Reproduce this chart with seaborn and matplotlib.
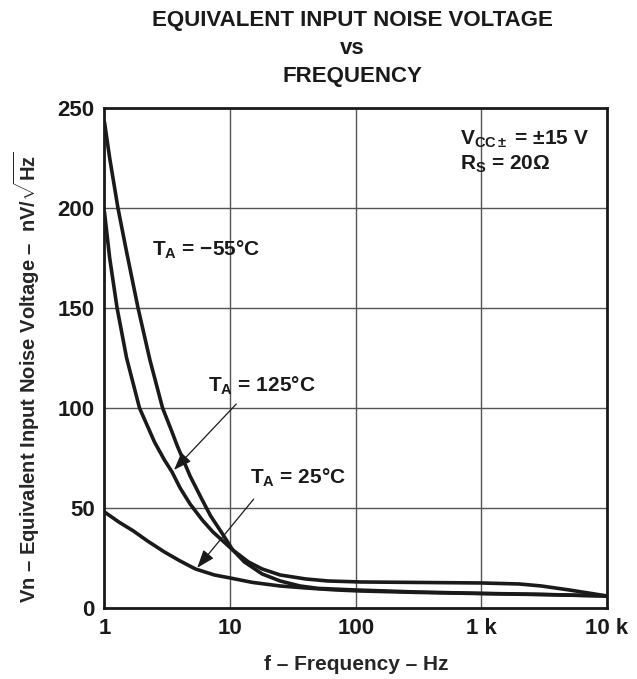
import numpy as np
import pandas as pd
import matplotlib.pyplot as plt
import seaborn as sns

# values
freq_m55 = [1, 1.1, 1.28, 1.5, 1.85, 2.3, 2.9, 3.4, 3.8, 4.8, 6.0, 7.0, 8.6, 10.5, 13, 18, 25, 36, 50, 100, 300, 1000, 3000, 10000]
vn_m55 = [243, 225, 200, 178, 150, 124, 100, 89, 81, 66, 54, 46, 37.5, 29, 23, 17, 13.5, 11, 9.8, 9, 8, 7.3, 6.8, 6]

freq_125 = [1, 1.1, 1.26, 1.5, 1.9, 2.5, 3.0, 3.45, 4.0, 4.8, 6, 7.3, 10.5, 14, 18, 25, 40, 60, 110, 1000, 2000, 3000, 5000, 10000]
vn_125 = [198, 175, 150, 125, 100, 83, 74, 68, 60, 52, 44, 38, 29, 23, 19.5, 16.5, 14.5, 13.5, 13, 12.5, 12, 11, 9, 6]

freq_25 = [1, 1.3, 1.7, 2.2, 3, 4, 5.3, 7.5, 10, 15, 25, 40, 70, 108, 300, 1000, 3000, 10000]
vn_25 = [48, 43, 38.5, 33.5, 28, 23.5, 19.5, 16.5, 15, 12.8, 11, 10, 9, 8.5, 7.8, 7.2, 6.7, 6]

x_ticks = [1, 10, 100, 1000, 10000]
x_tick_labels = ['1', '10', '100', '1 k', '10 k']
y_ticks = [0, 50, 100, 150, 200, 250]

df = pd.concat([
    pd.DataFrame({'f': freq_m55, 'vn': vn_m55, 'ta': '-55'}),
    pd.DataFrame({'f': freq_125, 'vn': vn_125, 'ta': '125'}),
    pd.DataFrame({'f': freq_25, 'vn': vn_25, 'ta': '25'}),
])

sns.set_style('white')
plt.rcParams['font.family'] = ['Liberation Sans', 'DejaVu Sans']
plt.rcParams['font.weight'] = 'bold'
plt.rcParams['mathtext.fontset'] = 'custom'
plt.rcParams['mathtext.rm'] = 'Liberation Sans:bold'
plt.rcParams['mathtext.it'] = 'Liberation Sans:bold'
plt.rcParams['mathtext.bf'] = 'Liberation Sans:bold'
plt.rcParams['mathtext.default'] = 'bf'

ink = '#1a1a1a'
fig = plt.figure(figsize=(6.37, 6.79), dpi=100)
ax = fig.add_axes([0.164, 0.1046, 0.789, 0.7364])

sns.lineplot(data=df, x='f', y='vn', units='ta', estimator=None, sort=False,
             color=ink, linewidth=2.6, ax=ax)

ax.set_xscale('log')
ax.set_xlim(1, 10000)
ax.set_ylim(0, 250)
ax.set_xticks(x_ticks)
ax.set_xticklabels(x_tick_labels)
ax.set_yticks(y_ticks)
ax.minorticks_off()
ax.tick_params(axis='both', length=0, labelsize=16, pad=7, colors=ink)
for lbl in ax.get_xticklabels() + ax.get_yticklabels():
    lbl.set_fontweight('bold')
ax.grid(True, color='#555555', linewidth=1.0)
for s in ax.spines.values():
    s.set_linewidth(2)
    s.set_color(ink)

ax.set_xlabel('f – Frequency – Hz', fontsize=15, fontweight='bold', labelpad=12)
ax.set_ylabel('Vn – Equivalent Input Noise Voltage –  nV/$\\sqrt{\\mathrm{Hz}}$',
              fontsize=14.5, fontweight='bold')
ax.yaxis.set_label_coords(-0.125, 0.462)

fig.text(0.553, 0.9705, 'EQUIVALENT INPUT NOISE VOLTAGE', ha='center', va='center',
         fontsize=16, fontweight='bold', color=ink)
fig.text(0.553, 0.929, 'vs', ha='center', va='center', fontsize=16, fontweight='bold', color=ink)
fig.text(0.553, 0.887, 'FREQUENCY', ha='center', va='center', fontsize=16, fontweight='bold', color=ink)

ax.text(0.707, 0.938, 'V$_{CC\\pm}$ = ±15 V', transform=ax.transAxes, fontsize=15, fontweight='bold',
        ha='left', va='center', color=ink)
ax.text(0.707, 0.888, 'R$_S$ = 20Ω', transform=ax.transAxes, fontsize=15, fontweight='bold',
        ha='left', va='center', color=ink)

ax.text(2.4, 179, 'T$_A$ = −55°C', fontsize=15, fontweight='bold', ha='left', va='center', color=ink)
ax.text(6.7, 111, 'T$_A$ = 125°C', fontsize=15, fontweight='bold', ha='left', va='center', color=ink)
ax.text(14.5, 65, 'T$_A$ = 25°C', fontsize=15, fontweight='bold', ha='left', va='center', color=ink)

arrow = dict(arrowstyle='-|>,head_length=1.1,head_width=0.4', color=ink, lw=0.9)
ax.annotate('', xy=(3.45, 68), xytext=(11.6, 103), arrowprops=arrow)
ax.annotate('', xy=(5.3, 19), xytext=(15.9, 55.5), arrowprops=arrow)

fig.savefig('out.png', dpi=100)
